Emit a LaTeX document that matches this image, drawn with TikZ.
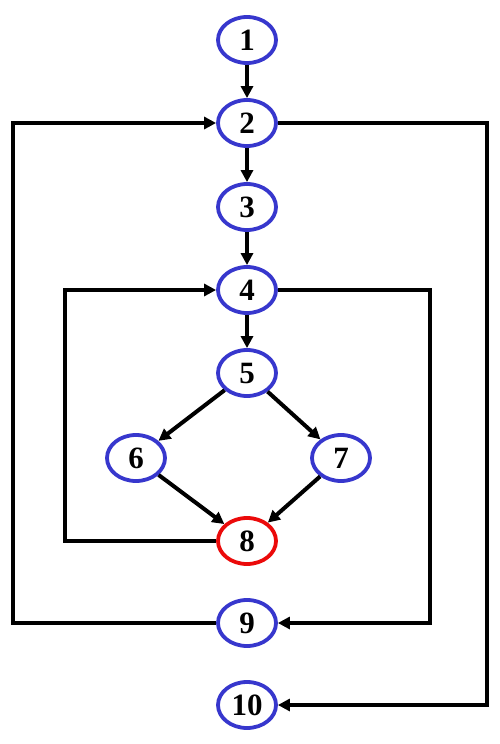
\documentclass[tikz,border=0pt]{standalone}
\usepackage{fontspec}
\setmainfont{Liberation Serif}
\usetikzlibrary{shapes.geometric,arrows.meta}
\definecolor{nodeblue}{RGB}{55,55,205}
\definecolor{nodered}{RGB}{235,10,10}
\tikzset{
  vtx/.style={ellipse, draw=nodeblue, line width=3.8pt, minimum width=58pt, minimum height=46pt, inner sep=0pt, font=\fontsize{31}{31}\selectfont\bfseries},
  hot/.style={vtx, draw=nodered},
  conn/.style={line width=4pt, line join=miter, -{Triangle[length=12pt,width=12pt]}}
}
\begin{document}
\begin{tikzpicture}[x=1pt,y=-1pt]
\useasboundingbox (0,0) rectangle (500,744);
\node[vtx] (n1) at (247,40) {1};
\node[vtx] (n2) at (247,123) {2};
\node[vtx] (n3) at (247,207) {3};
\node[vtx] (n4) at (247,290) {4};
\node[vtx] (n5) at (247,373) {5};
\node[vtx] (n6) at (136,458) {6};
\node[vtx] (n7) at (341,458) {7};
\node[hot] (n8) at (247,541) {8};
\node[vtx] (n9) at (247,623) {9};
\node[vtx] (n10) at (247,705) {10};
\coordinate (a1) at (65,541);
\coordinate (a2) at (65,290);
\coordinate (b1) at (430,290);
\coordinate (b2) at (430,623);
\coordinate (c1) at (13,623);
\coordinate (c2) at (13,123);
\coordinate (d1) at (487,123);
\coordinate (d2) at (487,705);
\draw[conn] (n1) -- (n2);
\draw[conn] (n2) -- (n3);
\draw[conn] (n3) -- (n4);
\draw[conn] (n4) -- (n5);
\draw[conn] (n5) -- (n6);
\draw[conn] (n5) -- (n7);
\draw[conn] (n6) -- (n8);
\draw[conn] (n7) -- (n8);
\draw[conn] (n8) -- (a1) -- (a2) -- (n4);
\draw[conn] (n4) -- (b1) -- (b2) -- (n9);
\draw[conn] (n9) -- (c1) -- (c2) -- (n2);
\draw[conn] (n2) -- (d1) -- (d2) -- (n10);
\end{tikzpicture}
\end{document}
